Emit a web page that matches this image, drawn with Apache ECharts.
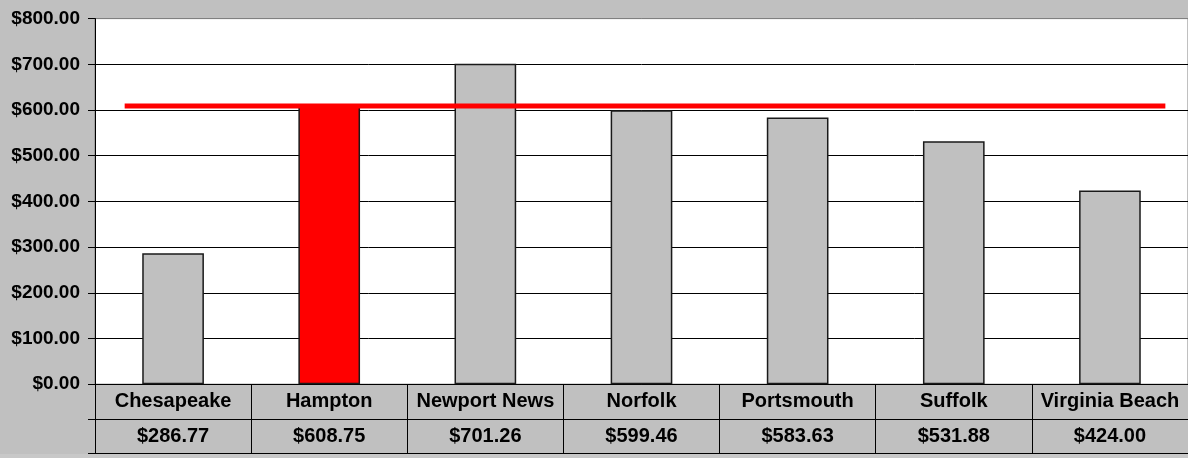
<!DOCTYPE html>
<html>
<head>
<meta charset="utf-8">
<script src="https://cdn.jsdelivr.net/npm/echarts@6/dist/echarts.min.js"></script>
<style>
html,body{margin:0;padding:0;background:#c0c0c0;}
#chart{width:1188px;height:458px;}
</style>
</head>
<body>
<div id="chart"></div>
<script>
// ---- data ----
const categories = ['Chesapeake', 'Hampton', 'Newport News', 'Norfolk', 'Portsmouth', 'Suffolk', 'Virginia Beach'];
const values = [286.77, 608.75, 701.26, 599.46, 583.63, 531.88, 424.00];
const highlightCategory = 'Hampton';
const referenceValue = [608.75];
const yTicks = [0, 100, 200, 300, 400, 500, 600, 700, 800];

const fmt = v => '$' + Number(v).toFixed(2);
const FONT = '"Liberation Sans", Arial, sans-serif';

const chart = echarts.init(document.getElementById('chart'), null, {renderer: 'canvas'});

const GRID = {left: 95, top: 18.6, right: -4, bottom: 73.8};
const splitColors = yTicks.map((t, i) => i === yTicks.length - 1 ? '#808080' : '#000');

chart.setOption({
  animation: false,
  backgroundColor: '#c0c0c0',
  grid: {
    left: GRID.left, top: GRID.top, right: GRID.right, bottom: GRID.bottom,
    show: true, backgroundColor: '#ffffff', borderColor: '#808080', borderWidth: 1,
    containLabel: false
  },
  xAxis: [
    {
      type: 'category',
      data: categories,
      position: 'bottom',
      axisLine: {show: true, lineStyle: {color: '#000', width: 1}},
      axisTick: {show: true, alignWithLabel: false, length: 69.5, lineStyle: {color: '#000', width: 1}},
      axisLabel: {
        show: true,
        interval: 0,
        margin: 0,
        formatter: (name, idx) => '{a|' + name + '}\n{b|' + fmt(values[idx]) + '}',
        rich: {
          a: {fontFamily: FONT, fontWeight: 'bold', fontSize: 20, color: '#000', lineHeight: 35, height: 35, verticalAlign: 'middle'},
          b: {fontFamily: FONT, fontWeight: 'bold', fontSize: 20, color: '#000', lineHeight: 35, height: 35, verticalAlign: 'middle'}
        }
      },
      splitLine: {show: false}
    },
    {
      type: 'value', min: 0, max: 7, show: false
    }
  ],
  yAxis: {
    type: 'value',
    min: yTicks[0],
    max: yTicks[yTicks.length - 1],
    interval: yTicks[1] - yTicks[0],
    axisLine: {show: true, lineStyle: {color: '#000', width: 1}},
    axisTick: {show: true, length: 7, lineStyle: {color: '#000', width: 1}},
    axisLabel: {
      margin: 15,
      fontFamily: FONT, fontWeight: 'bold', fontSize: 19, color: '#000',
      formatter: v => fmt(v)
    },
    splitLine: {show: true, lineStyle: {color: splitColors, width: 1}}
  },
  series: [
    {
      type: 'bar',
      xAxisIndex: 0,
      barWidth: '39.5%',
      data: values.map((v, i) => categories[i] === highlightCategory
        ? {value: v, itemStyle: {color: '#ff0000'}}
        : v),
      itemStyle: {color: '#c0c0c0', borderColor: '#1a1a1a', borderWidth: 1.5},
      z: 2
    },
    {
      type: 'line',
      xAxisIndex: 1,
      data: [[0.19, referenceValue[0]], [6.855, referenceValue[0]]],
      symbol: 'none',
      lineStyle: {color: '#ff0000', width: 5},
      z: 5
    }
  ],
  graphic: [
    {type: 'rect', shape: {x: 0, y: 454, width: 1188, height: 4}, style: {fill: '#c8c8c8'}, z: 0},
    {type: 'line', shape: {x1: 88, y1: 419.5, x2: 1188, y2: 419.5}, style: {stroke: '#000', lineWidth: 1}, z: 10},
    {type: 'line', shape: {x1: 88, y1: 453.5, x2: 1188, y2: 453.5}, style: {stroke: '#000', lineWidth: 1}, z: 10}
  ]
});
</script>
</body>
</html>
